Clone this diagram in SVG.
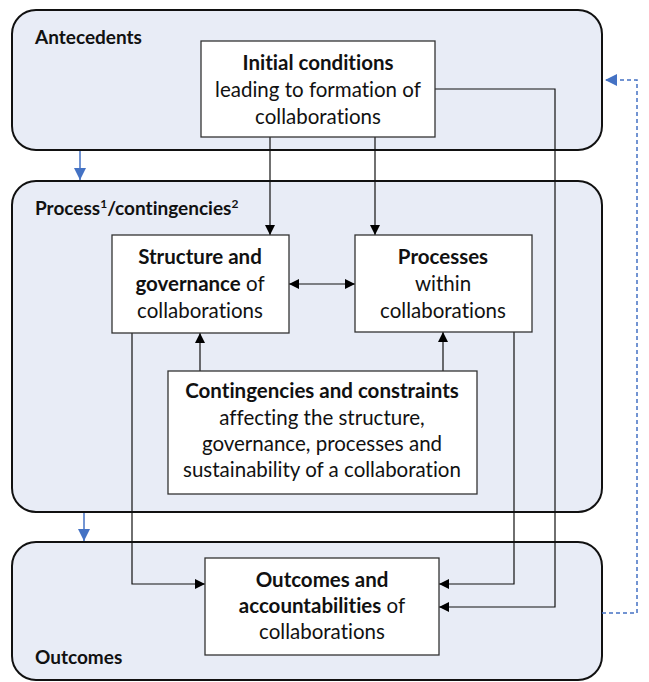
<svg xmlns="http://www.w3.org/2000/svg" width="649" height="682" viewBox="0 0 649 682">
  <defs>
    <marker id="arr" viewBox="0 0 10 10" refX="10" refY="5" markerWidth="10" markerHeight="10" markerUnits="userSpaceOnUse" orient="auto-start-reverse">
      <path d="M0,0 L10,5 L0,10 z" fill="#000"/>
    </marker>
    <marker id="arrBlue" viewBox="0 0 12 12" refX="12" refY="6" markerWidth="12" markerHeight="12" markerUnits="userSpaceOnUse" orient="auto">
      <path d="M0,0 L12,6 L0,12 z" fill="#4472C4"/>
    </marker>
  </defs>
  <style>
    text { font-variant-ligatures: none; }
    .panel { fill: #E8ECF6; stroke: #111; stroke-width: 2; }
    .box { fill: #fff; stroke: #333; stroke-width: 1.3; }
    .t { font-family: Lato, "Liberation Sans", sans-serif; font-size: 20.5px; fill: #111; text-anchor: middle; }
    .b { font-weight: bold; }
    .lbl { font-family: Lato, "Liberation Sans", sans-serif; font-size: 19px; font-weight: bold; fill: #111; }
    .c { fill: none; stroke: #111; stroke-width: 1.2; }
    .blue { fill: none; stroke: #4472C4; stroke-width: 1.5; }
    .dash { fill: none; stroke: #4472C4; stroke-width: 1.5; stroke-dasharray: 4 3; }
  </style>

  <g id="antecedents">
    <rect class="panel" x="12" y="10" width="590" height="140" rx="24"/>
    <text class="lbl" x="35" y="44">Antecedents</text>
  </g>
  <g id="process">
    <rect class="panel" x="12" y="181" width="590" height="331" rx="24"/>
    <text class="lbl" x="35" y="215">Process<tspan font-size="12" dy="-7">1</tspan><tspan dy="7">/contingencies</tspan><tspan font-size="12" dy="-7">2</tspan></text>
  </g>
  <g id="outcomes">
    <rect class="panel" x="12" y="542" width="590" height="138" rx="24"/>
    <text class="lbl" x="35" y="664">Outcomes</text>
  </g>

  <g id="connectors">
    <!-- stage flow -->
    <path class="blue" d="M80,151 V180" marker-end="url(#arrBlue)"/>
    <path class="blue" d="M84,513 V541" marker-end="url(#arrBlue)"/>
    <path class="dash" d="M602,613 H637 V80 H605" marker-end="url(#arrBlue)"/>
    <!-- initial conditions -->
    <path class="c" d="M270,137 V235" marker-end="url(#arr)"/>
    <path class="c" d="M375,137 V235" marker-end="url(#arr)"/>
    <path class="c" d="M435,89 H555 V607 H439" marker-end="url(#arr)"/>
    <!-- structure / processes -->
    <path class="c" d="M289,284 H355" marker-start="url(#arr)" marker-end="url(#arr)"/>
    <path class="c" d="M200,371 V333" marker-end="url(#arr)"/>
    <path class="c" d="M443,371 V332" marker-end="url(#arr)"/>
    <path class="c" d="M132,333 V584 H205" marker-end="url(#arr)"/>
    <path class="c" d="M514,332 V584 H439" marker-end="url(#arr)"/>
  </g>

  <g id="initial-conditions">
    <rect class="box" x="201" y="41" width="234" height="96"/>
    <text class="t b" x="318" y="70">Initial conditions</text>
    <text class="t" x="318" y="97">leading to formation of</text>
    <text class="t" x="318" y="124">collaborations</text>
  </g>
  <g id="structure-governance">
    <rect class="box" x="112" y="235" width="177" height="98"/>
    <text class="t b" x="200" y="264">Structure and</text>
    <text class="t" x="200" y="291"><tspan class="b">governance</tspan> of</text>
    <text class="t" x="200" y="318">collaborations</text>
  </g>
  <g id="processes">
    <rect class="box" x="355" y="235" width="177" height="97"/>
    <text class="t b" x="443" y="264">Processes</text>
    <text class="t" x="443" y="291">within</text>
    <text class="t" x="443" y="318">collaborations</text>
  </g>
  <g id="contingencies">
    <rect class="box" x="168" y="371" width="309" height="123"/>
    <text class="t b" x="322" y="398">Contingencies and constraints</text>
    <text class="t" x="322" y="425">affecting the structure,</text>
    <text class="t" x="322" y="451">governance, processes and</text>
    <text class="t" x="322" y="477">sustainability of a collaboration</text>
  </g>
  <g id="outcomes-accountabilities">
    <rect class="box" x="205" y="558" width="234" height="97"/>
    <text class="t b" x="322" y="587">Outcomes and</text>
    <text class="t" x="322" y="613"><tspan class="b">accountabilities</tspan> of</text>
    <text class="t" x="322" y="639">collaborations</text>
  </g>
</svg>
